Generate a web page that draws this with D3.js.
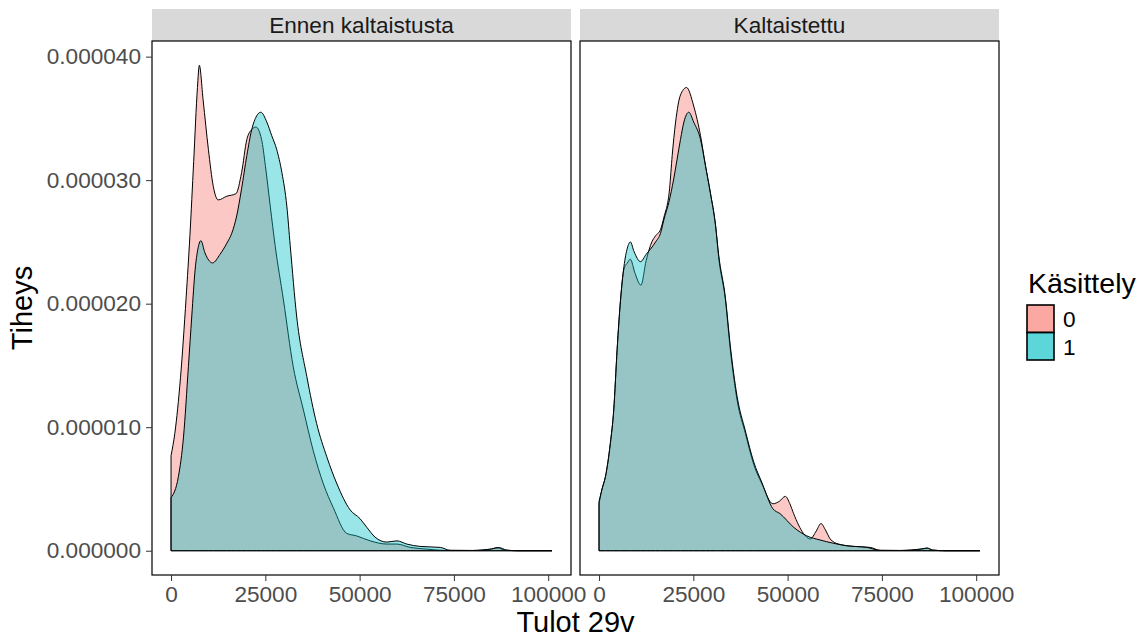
<!DOCTYPE html>
<html>
<head>
<meta charset="utf-8">
<script src="https://cdn.jsdelivr.net/npm/d3@7"></script>
<style>
  body { margin: 0; background: #fff; }
  text { font-family: "Liberation Sans", Arial, sans-serif; }
</style>
</head>
<body>
<div class="graphContainer"></div>
<script>
// facet names, groups and tick labels
var facets = ["Ennen kaltaistusta", "Kaltaistettu"];
var groups = ["0", "1"];
var xTicks = [0, 25000, 50000, 75000, 100000];
var yTicks = [0, 0.00001, 0.00002, 0.00003, 0.00004];

// density estimates: [tulot, tiheys]
var before0 = [[0, 0.77e-5], [1000, 0.95e-5], [2500, 1.40e-5], [4000, 2.05e-5], [5000, 2.55e-5],
  [6000, 3.15e-5], [7000, 3.75e-5], [7500, 3.93e-5], [8500, 3.65e-5], [9900, 3.25e-5],
  [11200, 2.95e-5], [12500, 2.84e-5], [14800, 2.87e-5], [17200, 2.89e-5], [18700, 3.06e-5],
  [20100, 3.33e-5], [21400, 3.41e-5], [22500, 3.43e-5], [24000, 3.33e-5], [25000, 3.12e-5],
  [26300, 2.79e-5], [27600, 2.47e-5], [29800, 2.03e-5], [32400, 1.49e-5], [35100, 1.14e-5],
  [37700, 0.81e-5], [40400, 0.54e-5], [43000, 0.35e-5], [46600, 0.14e-5], [49200, 0.12e-5],
  [52800, 0.08e-5], [57200, 0.054e-5], [59900, 0.054e-5], [63400, 0.027e-5], [67800, 0.013e-5],
  [72200, 0.003e-5], [80000, 0.002e-5], [84500, 0.01e-5], [86500, 0.025e-5], [88500, 0.005e-5],
  [92000, 0], [101000, 0]];

var before1 = [[0, 0.43e-5], [1950, 0.60e-5], [3300, 0.92e-5], [4600, 1.49e-5], [5500, 1.90e-5],
  [6400, 2.28e-5], [7100, 2.44e-5], [7900, 2.51e-5], [9000, 2.41e-5], [11000, 2.33e-5],
  [13000, 2.40e-5], [14800, 2.49e-5], [16100, 2.57e-5], [17400, 2.71e-5], [18700, 2.93e-5],
  [20100, 3.20e-5], [21400, 3.41e-5], [22700, 3.52e-5], [23800, 3.55e-5], [25400, 3.47e-5],
  [26700, 3.36e-5], [28000, 3.25e-5], [29400, 3.06e-5], [30700, 2.79e-5], [31600, 2.47e-5],
  [33300, 1.90e-5], [36000, 1.41e-5], [38600, 1.03e-5], [41300, 0.76e-5], [44000, 0.54e-5],
  [47500, 0.33e-5], [50100, 0.26e-5], [51900, 0.19e-5], [54100, 0.11e-5], [57200, 0.07e-5],
  [59900, 0.08e-5], [62500, 0.054e-5], [66000, 0.035e-5], [71400, 0.027e-5], [74000, 0.003e-5],
  [80000, 0.002e-5], [85000, 0.015e-5], [87000, 0.025e-5], [89000, 0.005e-5], [92000, 0],
  [101000, 0]];

var after0 = [[0, 0.38e-5], [800, 0.50e-5], [1700, 0.60e-5], [3000, 0.87e-5], [3900, 1.14e-5],
  [4800, 1.63e-5], [5700, 2.03e-5], [6600, 2.28e-5], [7500, 2.33e-5], [8300, 2.36e-5],
  [9500, 2.25e-5], [11100, 2.15e-5], [12500, 2.35e-5], [14000, 2.50e-5], [15000, 2.55e-5],
  [16300, 2.60e-5], [17200, 2.70e-5], [18700, 2.93e-5], [19400, 3.20e-5], [20300, 3.47e-5],
  [21600, 3.69e-5], [23200, 3.75e-5], [25100, 3.60e-5], [26900, 3.36e-5], [28200, 3.12e-5],
  [29500, 2.90e-5], [30900, 2.63e-5], [31700, 2.38e-5], [33500, 2.03e-5], [34800, 1.63e-5],
  [36600, 1.22e-5], [38800, 0.95e-5], [41000, 0.70e-5], [43200, 0.54e-5], [46100, 0.38e-5],
  [47800, 0.40e-5], [49400, 0.44e-5], [50600, 0.38e-5], [51600, 0.30e-5], [54200, 0.14e-5],
  [56000, 0.095e-5], [57600, 0.16e-5], [58850, 0.22e-5], [60000, 0.17e-5], [61300, 0.095e-5],
  [63500, 0.054e-5], [67500, 0.035e-5], [71900, 0.027e-5], [74500, 0.003e-5], [80000, 0.002e-5],
  [85500, 0.012e-5], [87000, 0.02e-5], [88500, 0.005e-5], [92000, 0], [101000, 0]];

var after1 = [[0, 0.40e-5], [800, 0.50e-5], [1700, 0.60e-5], [3000, 0.87e-5], [3900, 1.14e-5],
  [4800, 1.63e-5], [5700, 2.03e-5], [6600, 2.30e-5], [7500, 2.45e-5], [8300, 2.50e-5],
  [9300, 2.42e-5], [11000, 2.34e-5], [12500, 2.40e-5], [13600, 2.44e-5], [15000, 2.50e-5],
  [16300, 2.57e-5], [17200, 2.68e-5], [18500, 2.82e-5], [19800, 3.01e-5], [20700, 3.17e-5],
  [21600, 3.33e-5], [22500, 3.47e-5], [23800, 3.55e-5], [25100, 3.47e-5], [26900, 3.33e-5],
  [28200, 3.12e-5], [29500, 2.90e-5], [30900, 2.63e-5], [31700, 2.40e-5], [33500, 2.05e-5],
  [34800, 1.66e-5], [36600, 1.25e-5], [38800, 0.97e-5], [41000, 0.72e-5], [43200, 0.55e-5],
  [46100, 0.34e-5], [48000, 0.30e-5], [51600, 0.19e-5], [55100, 0.12e-5], [58600, 0.087e-5],
  [62200, 0.06e-5], [65700, 0.04e-5], [71000, 0.027e-5], [74500, 0.003e-5], [80000, 0.002e-5],
  [85500, 0.015e-5], [87000, 0.022e-5], [88500, 0.005e-5], [92000, 0], [101000, 0]];

var panelData = [[before0, before1], [after0, after1]];
var fills = ["#F8766D", "#00BFC4"];

var w = 1148,
    h = 641,
    panelTop = 41,
    panelBottom = 575,
    panelLefts = [152, 580],
    panelW = 419,
    stripH = 32;

var allPts = d3.merge([before0, before1, after0, after1]);
var xMax = d3.max(allPts, function (d) { return d[0]; }),
    yMax = d3.max(allPts, function (d) { return d[1]; });

// ggplot style 5 % expansion
var y = d3.scaleLinear()
  .domain([-yMax * 0.05, yMax * 1.05])
  .range([panelBottom, panelTop]);

var svg = d3.select(".graphContainer")
  .append("svg")
  .attr("width", w)
  .attr("height", h);

panelData.forEach(function (series, p) {
  var x0 = panelLefts[p];
  var x = d3.scaleLinear()
    .domain([-xMax * 0.05, xMax * 1.05])
    .range([x0, x0 + panelW]);

  var area = d3.area()
    .curve(d3.curveMonotoneX)
    .x(function (d) { return x(d[0]); })
    .y0(y(0))
    .y1(function (d) { return y(d[1]); });

  var g = svg.append("g");

  // strip
  g.append("rect")
    .attr("x", x0)
    .attr("y", panelTop - stripH)
    .attr("width", panelW)
    .attr("height", stripH)
    .attr("fill", "#D9D9D9");
  g.append("text")
    .attr("x", x0 + panelW / 2)
    .attr("y", panelTop - stripH / 2 + 8)
    .attr("text-anchor", "middle")
    .attr("font-size", 22.6)
    .attr("fill", "#1A1A1A")
    .text(facets[p]);

  g.selectAll("path.dens")
    .data(series)
    .enter()
      .append("path")
        .attr("class", "dens")
        .attr("d", function (d) { return area(d) + "Z"; })
        .attr("fill", function (d, i) { return fills[i]; })
        .attr("fill-opacity", 0.4)
        .attr("stroke", "#000")
        .attr("stroke-width", 1);

  // panel border
  g.append("rect")
    .attr("x", x0)
    .attr("y", panelTop)
    .attr("width", panelW)
    .attr("height", panelBottom - panelTop)
    .attr("fill", "none")
    .attr("stroke", "#000")
    .attr("stroke-width", 1.2);

  var axisBottom = d3.axisBottom(x)
    .tickValues(xTicks)
    .tickFormat(d3.format("d"))
    .tickSize(6)
    .tickPadding(5);

  var gx = g.append("g")
    .attr("transform", "translate(0," + panelBottom + ")")
    .call(axisBottom);
  gx.select(".domain").remove();
  gx.selectAll("line").attr("stroke", "#333");
  gx.selectAll("text")
    .attr("font-size", 22.6)
    .attr("fill", "#4D4D4D")
    .attr("font-family", "Liberation Sans, Arial, sans-serif");
});

var axisLeft = d3.axisLeft(y)
  .tickValues(yTicks)
  .tickFormat(d3.format(".6f"))
  .tickSize(6)
  .tickPadding(5);

var gy = svg.append("g")
  .attr("transform", "translate(" + panelLefts[0] + ",0)")
  .call(axisLeft);
gy.select(".domain").remove();
gy.selectAll("line").attr("stroke", "#333");
gy.selectAll("text")
  .attr("font-size", 22.6)
  .attr("fill", "#4D4D4D")
  .attr("font-family", "Liberation Sans, Arial, sans-serif");

// axis titles
svg.append("text")
  .attr("x", (panelLefts[0] + panelLefts[1] + panelW) / 2)
  .attr("y", 632)
  .attr("text-anchor", "middle")
  .attr("font-size", 29)
  .text("Tulot 29v");

svg.append("text")
  .attr("transform", "translate(32," + (panelTop + panelBottom) / 2 + ") rotate(-90)")
  .attr("text-anchor", "middle")
  .attr("font-size", 29)
  .text("Tiheys");

// legend
var lg = svg.append("g").attr("transform", "translate(1026,0)");
lg.append("text")
  .attr("x", 2)
  .attr("y", 293)
  .attr("font-size", 28.5)
  .text("Käsittely");

lg.selectAll("rect")
  .data(groups)
  .enter()
    .append("rect")
      .attr("x", 1)
      .attr("y", function (d, i) { return 305 + i * 27.5; })
      .attr("width", 27)
      .attr("height", 27.5)
      .attr("fill", function (d, i) { return fills[i]; })
      .attr("fill-opacity", 0.64)
      .attr("stroke", "#000")
      .attr("stroke-width", 1.6);

lg.selectAll("text.lab")
  .data(groups)
  .enter()
    .append("text")
      .attr("class", "lab")
      .attr("x", 37)
      .attr("y", function (d, i) { return 305 + i * 27.5 + 22; })
      .attr("font-size", 22.6)
      .text(function (d) { return d; });
</script>
</body>
</html>
